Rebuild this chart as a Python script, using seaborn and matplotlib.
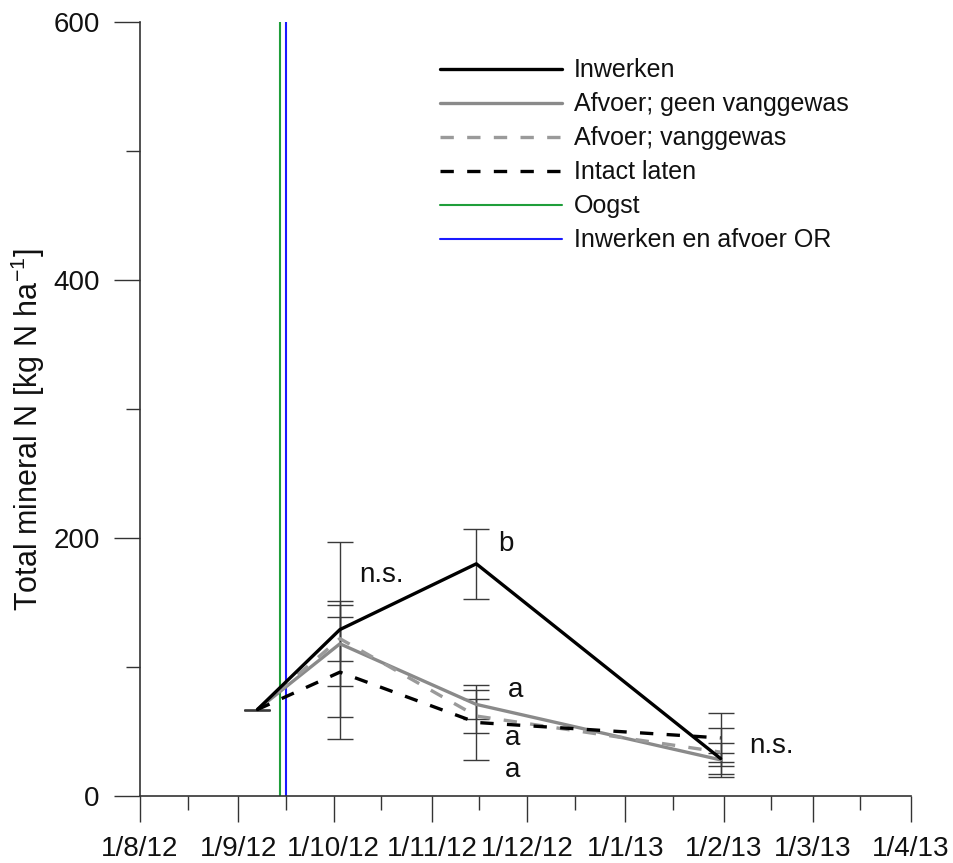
import pandas as pd
import matplotlib
matplotlib.use("Agg")
import matplotlib.pyplot as plt
import matplotlib.dates as mdates
from matplotlib.lines import Line2D
import seaborn as sns

# Sample dates and treatment means / errors
dates = pd.to_datetime(["2012-09-07", "2012-10-03", "2012-11-15", "2013-01-31"])
inwerken = [67, 129, 180, 29]
inwerken_err = [0, 68, 27, 12]
afvoer_geen = [67, 118, 71, 28]
afvoer_geen_err = [0, 33, 11, 5]
afvoer_vang = [67, 122, 62, 34]
afvoer_vang_err = [0, 17, 13, 19]
intact = [67, 96, 57, 45]
intact_err = [0, 52, 29, 19]

oogst_date = pd.Timestamp("2012-09-14")
inwerken_or_date = pd.Timestamp("2012-09-16")

# significance letters
sig_dates = pd.to_datetime(["2012-10-09", "2012-11-22", "2012-11-25", "2012-11-24", "2012-11-24", "2013-02-09"])
sig_values = [171, 195, 82, 45, 20, 39]
sig_texts = ["n.s.", "b", "a", "a", "a", "n.s."]

sns.set_style("ticks")
plt.rcParams["font.family"] = ["Liberation Sans", "DejaVu Sans"]
plt.rcParams["text.color"] = "#111111"
plt.rcParams["axes.labelcolor"] = "#111111"
plt.rcParams["xtick.labelcolor"] = "#111111"
plt.rcParams["ytick.labelcolor"] = "#111111"

fig = plt.figure(figsize=(9.54, 8.63), dpi=100)
ax = fig.add_axes([140 / 954, 1 - 796 / 863, 771 / 954, 774 / 863])

series = [
    ("Afvoer; geen vanggewas", afvoer_geen, afvoer_geen_err, "#8a8a8a", "-"),
    ("Afvoer; vanggewas", afvoer_vang, afvoer_vang_err, "#9a9a9a", "--"),
    ("Intact laten", intact, intact_err, "black", "--"),
    ("Inwerken", inwerken, inwerken_err, "black", "-"),
]

handles = {}
for name, vals, errs, col, ls in series:
    df = pd.DataFrame({"date": dates, "N": vals})
    sns.lineplot(data=df, x="date", y="N", ax=ax, color=col, linewidth=2.4, zorder=3)
    if ls == "--":
        ax.lines[-1].set_dashes((4, 4))
    ax.errorbar(dates, vals, yerr=errs, fmt="none", ecolor="#3a3a3a",
                elinewidth=1.0, capsize=9.4, capthick=1.0, zorder=2)
    h = Line2D([], [], color=col, linewidth=2.4)
    if ls == "--":
        h.set_dashes((4, 4))
    handles[name] = h

ax.axvline(oogst_date, color="#1f9e3a", linewidth=1.5, zorder=2.5)
ax.axvline(inwerken_or_date, color="#1a1aff", linewidth=1.5, zorder=2.5)
handles["Oogst"] = Line2D([], [], color="#1f9e3a", linewidth=1.5)
handles["Inwerken en afvoer OR"] = Line2D([], [], color="#1a1aff", linewidth=1.5)

for d, v, t in zip(sig_dates, sig_values, sig_texts):
    ax.text(d, v, t, fontsize=20, ha="left", va="center")

order = ["Inwerken", "Afvoer; geen vanggewas", "Afvoer; vanggewas",
         "Intact laten", "Oogst", "Inwerken en afvoer OR"]
ax.legend([handles[k] for k in order], order, loc="upper left",
          bbox_to_anchor=(0.389, 0.953), frameon=False, fontsize=18,
          handlelength=4.9, handletextpad=0.45, labelspacing=0.4,
          borderpad=0, borderaxespad=0)

ax.set_xlim(pd.Timestamp("2012-08-01"), pd.Timestamp("2013-04-01"))
ax.set_ylim(0, 600)
ax.xaxis.set_major_locator(mdates.MonthLocator())
ax.xaxis.set_minor_locator(mdates.MonthLocator(bymonthday=16))


def date_label(x, pos):
    d = mdates.num2date(x)
    return f"{d.day}/{d.month}/{d:%y}"


ax.xaxis.set_major_formatter(plt.FuncFormatter(date_label))
ax.set_yticks([0, 200, 400, 600])
ax.set_yticks([100, 300, 500], minor=True)

sns.despine(ax=ax)
for sp in ["left", "bottom"]:
    ax.spines[sp].set_color("#333333")
    ax.spines[sp].set_linewidth(1.2)
ax.tick_params(which="major", length=19, width=1.0, color="#333333", labelsize=20, pad=10)
ax.tick_params(which="minor", length=10, width=1.0, color="#333333")

ax.set_xlabel("")
ax.set_ylabel("Total mineral N [kg N ha$^{\\mathregular{-1}}$]", fontsize=22)
ax.yaxis.set_label_coords(-0.12, 0.473)

fig.savefig("out.png", dpi=100)
